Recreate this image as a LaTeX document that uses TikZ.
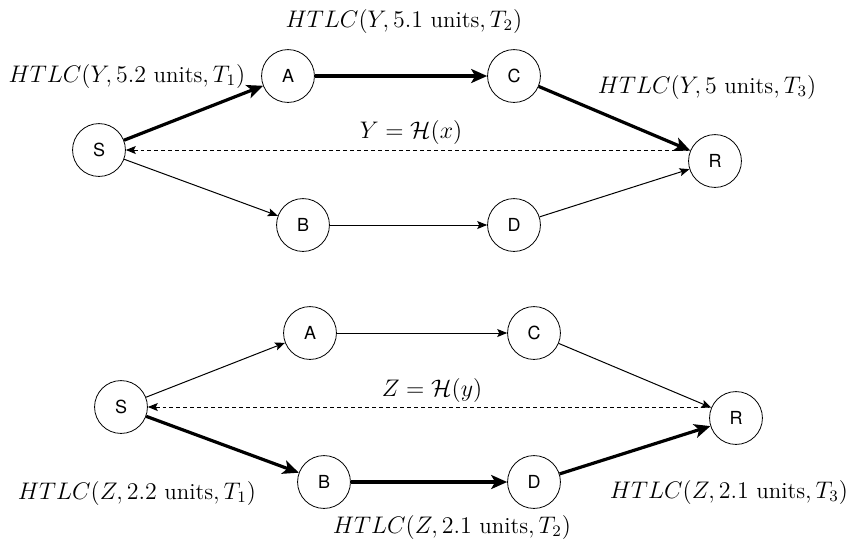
\documentclass[tikz,border=0pt]{standalone}
\usepackage{amsmath}
\usepackage{fontspec}
\setsansfont{TeX Gyre Heros}
\usetikzlibrary{arrows.meta}
\tikzset{
    peer/.style={draw, thin, circle, minimum size=0.93cm, inner sep=0pt, font=\sffamily\small},
    hop/.style={-{Stealth[length=5pt, width=4pt, inset=1pt]}, line width=0.5pt},
    hot/.style={-{Stealth[length=8pt, width=7pt, inset=2pt]}, line width=1.6pt},
    sec/.style={{Stealth[length=5pt, width=4pt, inset=1pt]}-, line width=0.5pt, dash pattern=on 2pt off 1.5pt},
    lbl/.style={inner sep=0pt, font=\fontsize{11.5}{14}\selectfont}
}

\begin{document}
\begin{tikzpicture}[x=0.0176cm, y=-0.0176cm]
        \useasboundingbox (0,0) rectangle (848,546);
        % first payment, routed over A and C
        \node[peer] (s1) at (99,150) {S};
        \node[peer] (a1) at (288,76) {A};
        \node[peer] (c1) at (514,76) {C};
        \node[peer] (r1) at (715,161) {R};
        \node[peer] (b1) at (303,225) {B};
        \node[peer] (d1) at (514,225) {D};

        \draw[hot] (s1) -- (a1);
        \draw[hot] (a1) -- (c1);
        \draw[hot] (c1) -- (r1);
        \draw[hop] (s1) -- (b1);
        \draw[hop] (b1) -- (d1);
        \draw[hop] (d1) -- (r1);
        \draw[sec] (s1) -- (r1.west |- s1);

        \node[lbl] (l11) at (127,76) {$HTLC(Y, 5.2\text{ units}, T_1)$};
        \node[lbl] (l12) at (404,21) {$HTLC(Y, 5.1\text{ units}, T_2)$};
        \node[lbl] (l13) at (707,87) {$HTLC(Y, 5\text{ units}, T_3)$};
        \node[lbl] (h1) at (411,132) {$Y = \mathcal{H}(x)$};

        % second payment, routed over B and D
        \node[peer] (s2) at (121,407) {S};
        \node[peer] (a2) at (310,333) {A};
        \node[peer] (c2) at (534,333) {C};
        \node[peer] (r2) at (736,418) {R};
        \node[peer] (b2) at (324,482) {B};
        \node[peer] (d2) at (534,482) {D};

        \draw[hop] (s2) -- (a2);
        \draw[hop] (a2) -- (c2);
        \draw[hop] (c2) -- (r2);
        \draw[hot] (s2) -- (b2);
        \draw[hot] (b2) -- (d2);
        \draw[hot] (d2) -- (r2);
        \draw[sec] (s2) -- (r2.west |- s2);

        \node[lbl] (l21) at (137,493) {$HTLC(Z, 2.2\text{ units}, T_1)$};
        \node[lbl] (l22) at (452,527) {$HTLC(Z, 2.1\text{ units}, T_2)$};
        \node[lbl] (l23) at (729,492) {$HTLC(Z, 2.1\text{ units}, T_3)$};
        \node[lbl] (h2) at (432,390) {$Z = \mathcal{H}(y)$};
    \end{tikzpicture}
\end{document}
